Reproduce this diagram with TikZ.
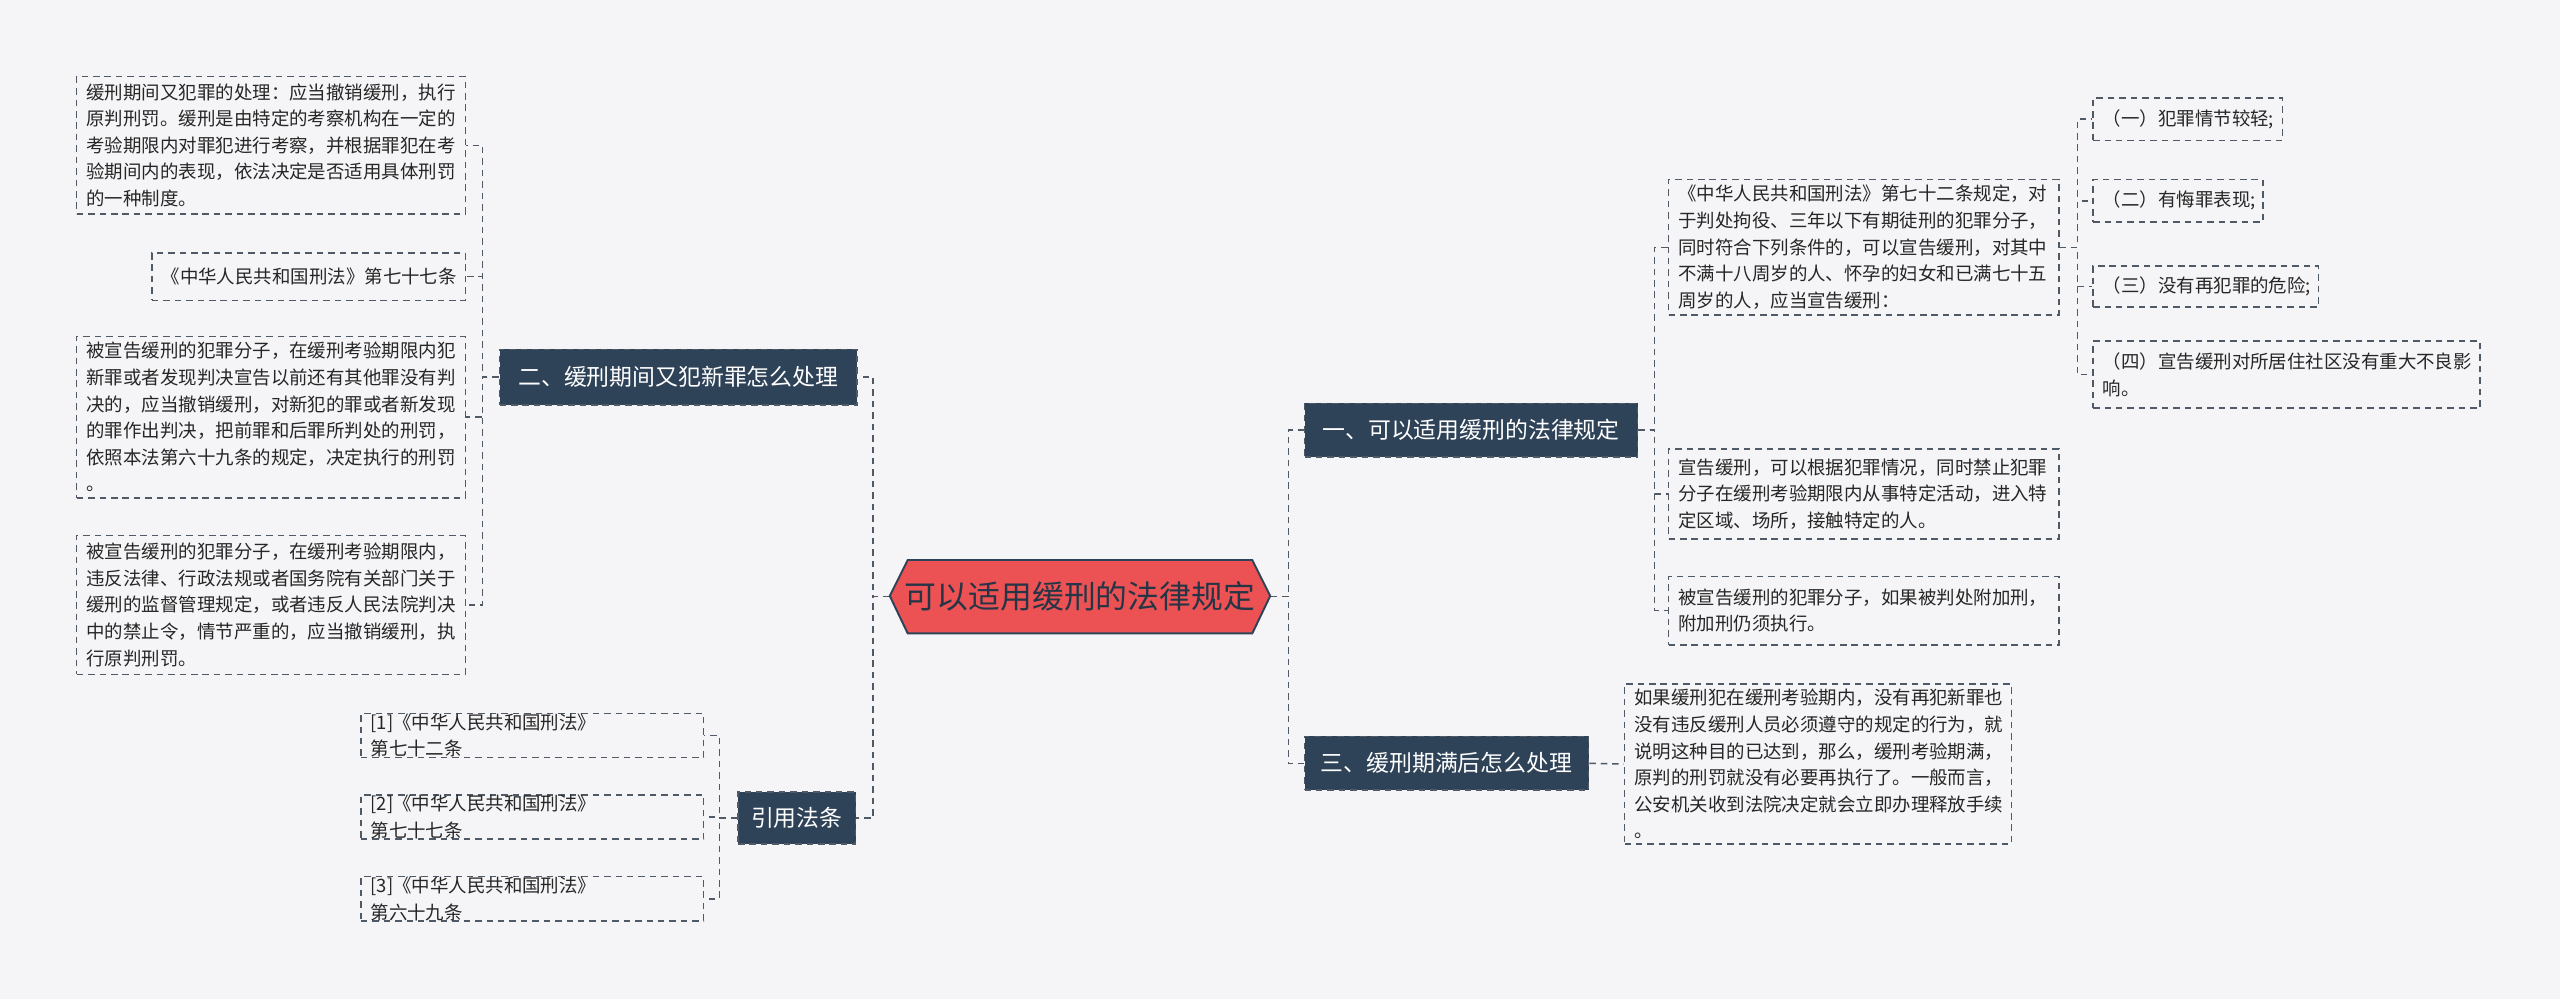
\documentclass[tikz,border=0pt]{standalone}
\usepackage{fontspec}
\setmainfont{Noto Sans CJK SC}
\definecolor{bg}{HTML}{F5F5F7}
\definecolor{dark}{HTML}{2E4258}
\definecolor{rootred}{HTML}{EC5254}
\definecolor{ln}{HTML}{505A66}
\begin{document}
\begin{tikzpicture}[x=1pt,y=-1pt,
  dsh/.style={dash pattern=on 4pt off 3pt, line width=0.9pt, draw=ln},
  leaf/.style={dsh, rectangle, inner sep=0pt, align=left, font=\fontsize{11.3}{16.3}\selectfont, text=black!85},
  br/.style={rectangle, fill=dark, draw=ln, dash pattern=on 4pt off 3pt, line width=0.9pt, text=white, font=\fontsize{14}{16}\selectfont, inner sep=0pt},
  con/.style={dsh}]
\fill[bg] (0,0) rectangle (1568,612);
\useasboundingbox (0,0) rectangle (1568,612);
% root
\fill[rootred] (545,365) -- (556,343) -- (767,343) -- (778,365) -- (767,388) -- (556,388) -- cycle;
\draw[dark, line width=1.2pt] (545,365) -- (556,343) -- (767,343) -- (778,365) -- (767,388) -- (556,388) -- cycle;
\node[minimum width=233pt, minimum height=45pt, inner sep=0pt, font=\fontsize{19.5}{22}\selectfont, text=dark!80!black] (root) at (661.5,365.5) {可以适用缓刑的法律规定};
% branches
\node[br, minimum width=219pt, minimum height=34pt] (b2) at (415.5,231) {二、缓刑期间又犯新罪怎么处理};
\node[br, minimum width=72pt, minimum height=32pt] (bq) at (488,501) {引用法条};
\node[br, minimum width=204pt, minimum height=33pt] (b1) at (901,263.5) {一、可以适用缓刑的法律规定};
\node[br, minimum width=174pt, minimum height=33pt] (b3) at (886,467.5) {三、缓刑期满后怎么处理};
% left leaves
\node[leaf, minimum width=238pt, minimum height=84pt, text width=226pt] (L1) at (166,89) {缓刑期间又犯罪的处理：应当撤销缓刑，执行\\原判刑罚。缓刑是由特定的考察机构在一定的\\考验期限内对罪犯进行考察，并根据罪犯在考\\验期间内的表现，依法决定是否适用具体刑罚\\的一种制度。};
\node[leaf, minimum width=192pt, minimum height=29pt, text width=180pt] (L2) at (189,169.5) {《中华人民共和国刑法》第七十七条};
\node[leaf, minimum width=238pt, minimum height=99pt, text width=226pt] (L3) at (166,255.5) {被宣告缓刑的犯罪分子，在缓刑考验期限内犯\\新罪或者发现判决宣告以前还有其他罪没有判\\决的，应当撤销缓刑，对新犯的罪或者新发现\\的罪作出判决，把前罪和后罪所判处的刑罚，\\依照本法第六十九条的规定，决定执行的刑罚\\。};
\node[leaf, minimum width=238pt, minimum height=85pt, text width=226pt] (L4) at (166,370.5) {被宣告缓刑的犯罪分子，在缓刑考验期限内，\\违反法律、行政法规或者国务院有关部门关于\\缓刑的监督管理规定，或者违反人民法院判决\\中的禁止令，情节严重的，应当撤销缓刑，执\\行原判刑罚。};
% quotes
\node[leaf, minimum width=210pt, minimum height=27pt, text width=198pt] (R1) at (326,450.5) {[1]《中华人民共和国刑法》 第七十二条};
\node[leaf, minimum width=210pt, minimum height=27pt, text width=198pt] (R2) at (326,500.5) {[2]《中华人民共和国刑法》 第七十七条};
\node[leaf, minimum width=210pt, minimum height=27pt, text width=198pt] (R3) at (326,550.5) {[3]《中华人民共和国刑法》 第六十九条};
% right leaves
\node[leaf, minimum width=239pt, minimum height=83pt, text width=227pt] (A1) at (1141.5,151.5) {《中华人民共和国刑法》第七十二条规定，对\\于判处拘役、三年以下有期徒刑的犯罪分子，\\同时符合下列条件的，可以宣告缓刑，对其中\\不满十八周岁的人、怀孕的妇女和已满七十五\\周岁的人，应当宣告缓刑：};
\node[leaf, minimum width=239pt, minimum height=55pt, text width=227pt] (A2) at (1141.5,302.5) {宣告缓刑，可以根据犯罪情况，同时禁止犯罪\\分子在缓刑考验期限内从事特定活动，进入特\\定区域、场所，接触特定的人。};
\node[leaf, minimum width=239pt, minimum height=42pt, text width=227pt] (A3) at (1141.5,374) {被宣告缓刑的犯罪分子，如果被判处附加刑，\\附加刑仍须执行。};
\node[leaf, minimum width=116pt, minimum height=26pt, text width=104pt] (S1) at (1340,73) {（一）犯罪情节较轻;};
\node[leaf, minimum width=104pt, minimum height=26pt, text width=92pt] (S2) at (1334,123) {（二）有悔罪表现;};
\node[leaf, minimum width=138pt, minimum height=25pt, text width=126pt] (S3) at (1351,175.5) {（三）没有再犯罪的危险;};
\node[leaf, minimum width=237pt, minimum height=41pt, text width=225pt] (S4) at (1400.5,229.5) {（四）宣告缓刑对所居住社区没有重大不良影\\响。};
\node[leaf, minimum width=237pt, minimum height=98pt, text width=225pt] (C1) at (1113.5,468) {如果缓刑犯在缓刑考验期内，没有再犯新罪也\\没有违反缓刑人员必须遵守的规定的行为，就\\说明这种目的已达到，那么，缓刑考验期满，\\原判的刑罚就没有必要再执行了。一般而言，\\公安机关收到法院决定就会立即办理释放手续\\。};
% connectors
\foreach \c in {b2,bq} \draw[con] (root.west) -- ++(-10,0) |- (\c.east);
\foreach \c in {b1,b3} \draw[con] (root.east) -- ++(11,0) |- (\c.west);
\foreach \c in {L1,L2,L3,L4} \draw[con] (b2.west) -- ++(-10,0) |- (\c.east);
\foreach \c in {R1,R2,R3} \draw[con] (bq.west) -- ++(-11,0) |- (\c.east);
\foreach \c in {A1,A2,A3} \draw[con] (b1.east) -- ++(10,0) |- (\c.west);
\foreach \c in {S1,S2,S3,S4} \draw[con] (A1.east) -- ++(11,0) |- (\c.west);
\draw[con] (b3.east) -- (C1.west);
\end{tikzpicture}
\end{document}
